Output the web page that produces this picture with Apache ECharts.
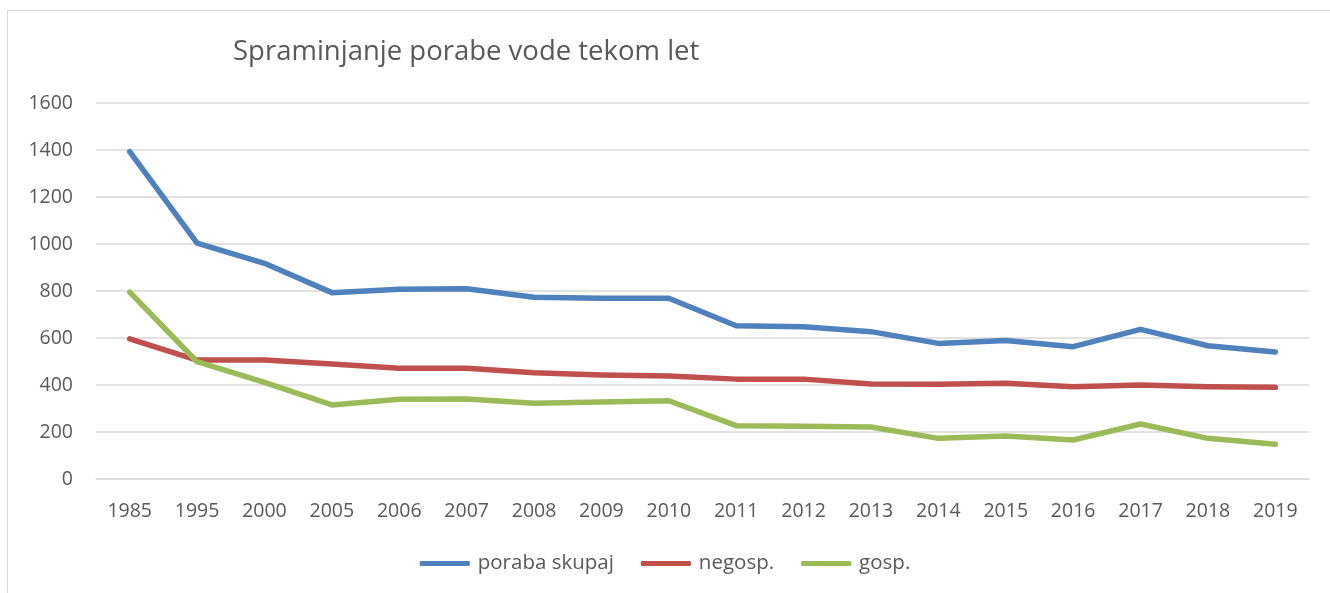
<!DOCTYPE html>
<html>
<head>
<meta charset="utf-8">
<script src="https://cdn.jsdelivr.net/npm/echarts@6/dist/echarts.min.js"></script>
<style>
html,body{margin:0;padding:0;background:#fff;}
#c{width:1330px;height:593px;}
</style>
</head>
<body>
<div id="c"></div>
<script>
var years = ['1985','1995','2000','2005','2006','2007','2008','2009','2010','2011','2012','2013','2014','2015','2016','2017','2018','2019'];
var porabaSkupaj = [1393,1004,918,793,807,810,773,769,769,652,648,627,577,589,563,637,567,540];
var negosp = [596,506,506,489,471,471,452,443,438,425,425,404,403,407,393,400,393,390];
var gosp = [795,499,411,315,339,340,322,328,333,227,224,221,173,183,166,234,173,148];
var yTicks = {min:0, max:1600, interval:200};

var font = 'Open Sans';
var txt = '#595959';
var chart = echarts.init(document.getElementById('c'));
chart.setOption({
  animation:false,
  backgroundColor:'#fff',
  graphic:[{type:'rect', shape:{x:7.5,y:10.5,width:1340,height:600}, style:{fill:'none',stroke:'#D9D9D9',lineWidth:1}, z:-1}],
  title:{text:'Spraminjanje porabe vode tekom let', left:228, top:33,
    textStyle:{fontFamily:font, fontSize:27.5, fontWeight:'normal', color:txt}},
  legend:{bottom:14, left:'center', itemWidth:50, itemHeight:5, itemGap:27,
    icon:'roundRect',
    textStyle:{fontFamily:font, fontSize:20.5, color:txt, padding:[0,0,0,3]},
    data:['poraba skupaj','negosp.','gosp.']},
  grid:{left:96, right:21, top:103, bottom:114, containLabel:false},
  xAxis:{type:'category', data:years, boundaryGap:true,
    axisLine:{show:true, lineStyle:{color:'#D9D9D9', width:1.5}},
    axisTick:{show:false},
    axisLabel:{fontFamily:font, fontSize:19.5, color:txt, margin:22}},
  yAxis:{type:'value', min:yTicks.min, max:yTicks.max, interval:yTicks.interval,
    axisLine:{show:false}, axisTick:{show:false},
    splitLine:{lineStyle:{color:'#D9D9D9', width:1.5}},
    axisLabel:{fontFamily:font, fontSize:19.5, color:txt, margin:23,
      formatter:function(v){return String(v);}}},
  series:[
    {name:'poraba skupaj', type:'line', data:porabaSkupaj, symbol:'none',
      lineStyle:{width:5.5, color:'#4F81BD', cap:'round', join:'round'}, itemStyle:{color:'#4F81BD'}},
    {name:'negosp.', type:'line', data:negosp, symbol:'none',
      lineStyle:{width:5.5, color:'#C0504D', cap:'round', join:'round'}, itemStyle:{color:'#C0504D'}},
    {name:'gosp.', type:'line', data:gosp, symbol:'none',
      lineStyle:{width:5.5, color:'#9BBB59', cap:'round', join:'round'}, itemStyle:{color:'#9BBB59'}}
  ]
});
</script>
</body>
</html>
